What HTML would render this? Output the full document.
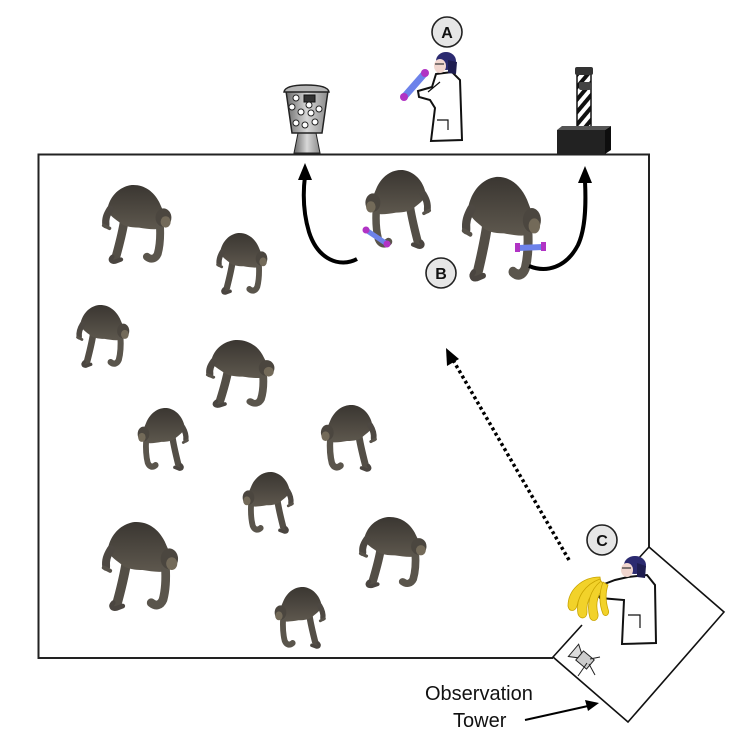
<!DOCTYPE html>
<html><head><meta charset="utf-8"><style>
html,body{margin:0;padding:0;background:#fff;}
svg{display:block;}
</style></head><body>
<svg width="734" height="746" viewBox="0 0 734 746" xmlns="http://www.w3.org/2000/svg">
<defs>
<linearGradient id="fur" x1="0" y1="0" x2="0" y2="1">
 <stop offset="0" stop-color="#3a3631"/><stop offset="1" stop-color="#5e584e"/>
</linearGradient>
<linearGradient id="grayv" x1="0" y1="0" x2="1" y2="0">
 <stop offset="0" stop-color="#6a6a6a"/><stop offset="0.5" stop-color="#d8d8d8"/><stop offset="1" stop-color="#8a8a8a"/>
</linearGradient>
<pattern id="stripe" patternUnits="userSpaceOnUse" width="8" height="8" patternTransform="rotate(40)">
 <rect width="4" height="8" fill="#111"/>
</pattern>
<g id="chimp">
 <path d="M30 48 C27 68 22 86 18 101" stroke="#534e46" stroke-width="12" fill="none" stroke-linecap="round"/>
 <path d="M13 101 C9 105 11 109 17 108 L25 105" stroke="#4a4540" stroke-width="6" fill="none" stroke-linecap="round"/>
 <path d="M6 34 C10 14 24 2 40 0 C56 -1 70 8 78 24 L86 42 L84 60 C76 64 62 62 50 60 C38 60 28 58 22 52 C14 46 8 42 6 34 Z" fill="url(#fur)"/>
 <path d="M10 34 C5 42 3 48 4 56" stroke="#4d4842" stroke-width="10" fill="none" stroke-linecap="round"/>
 <path d="M1 57 L9 61" stroke="#57524a" stroke-width="5" stroke-linecap="round"/>
 <path d="M79 56 C80 72 79 86 76 97 C73 104 67 106 61 101" stroke="#5a554c" stroke-width="11" fill="none" stroke-linecap="round"/>
 <ellipse cx="84" cy="46" rx="11" ry="13" fill="#4b463f"/>
 <ellipse cx="87" cy="52" rx="7" ry="8" fill="#736a59"/>
</g>
</defs>

<!-- enclosure -->
<path d="M553 658 L38.5 658 L38.5 154.5 L649 154.5 L649 547" fill="none" stroke="#222" stroke-width="2"/>
<!-- tower -->
<path d="M649 547 L724 612 L628 722 L553 657 L582 625" fill="none" stroke="#111" stroke-width="1.6"/>
<path d="M649 547 L638 559" fill="none" stroke="#111" stroke-width="1.6"/>

<!-- chimps -->
<use href="#chimp" transform="translate(103,185) scale(0.72,0.71)"/>
<use href="#chimp" transform="translate(217,233) scale(0.53,0.555)"/>
<use href="#chimp" transform="translate(77,305) scale(0.55,0.565)"/>
<use href="#chimp" transform="translate(207,340) scale(0.71,0.61)"/>
<use href="#chimp" transform="translate(188,408) scale(-0.53,0.565)"/>
<use href="#chimp" transform="translate(376,405) scale(-0.58,0.6)"/>
<use href="#chimp" transform="translate(293,472) scale(-0.53,0.555)"/>
<use href="#chimp" transform="translate(103,522) scale(0.79,0.8)"/>
<use href="#chimp" transform="translate(360,517) scale(0.70,0.64)"/>
<use href="#chimp" transform="translate(325,587) scale(-0.53,0.555)"/>
<use href="#chimp" transform="translate(430,170) scale(-0.68,0.71)"/>
<use href="#chimp" transform="translate(463,177) scale(0.82,0.94)"/>

<!-- tools held by chimps -->
<line x1="366" y1="230" x2="387" y2="244" stroke="#6d82ea" stroke-width="5" stroke-linecap="round"/>
<circle cx="366" cy="230" r="3.5" fill="#b133c4"/><circle cx="387" cy="244" r="3.5" fill="#b133c4"/>
<line x1="518" y1="248" x2="543" y2="247" stroke="#6d82ea" stroke-width="6" stroke-linecap="round"/>
<rect x="515" y="243" width="5" height="9" fill="#b133c4"/><rect x="541" y="242" width="5" height="9" fill="#b133c4"/>

<!-- vending / dispenser -->
<path d="M298 133 L316 133 L320 153 L294 153 Z" fill="url(#grayv)" stroke="#222" stroke-width="1"/>
<path d="M286 91 L328 91 L322 133 L292 133 Z" fill="url(#grayv)" stroke="#222" stroke-width="1.5"/>
<path d="M284 92 Q285 85 306 85 Q328 85 329 92 Z" fill="#b5b5b5" stroke="#222" stroke-width="1.5"/>
<rect x="304" y="95" width="11" height="7" fill="#333" stroke="#111"/>
<g fill="#fff" stroke="#222" stroke-width="1">
<circle cx="296" cy="98" r="3"/><circle cx="292" cy="107" r="3"/><circle cx="301" cy="112" r="3"/>
<circle cx="311" cy="113" r="3"/><circle cx="319" cy="109" r="3"/><circle cx="296" cy="123" r="3"/>
<circle cx="305" cy="125" r="3"/><circle cx="315" cy="122" r="3"/><circle cx="309" cy="105" r="3"/>
</g>

<!-- tube stand -->
<rect x="577" y="73" width="14" height="58" fill="#fff"/>
<rect x="577" y="73" width="14" height="58" fill="url(#stripe)" stroke="#111" stroke-width="1.5"/>
<rect x="575" y="67" width="18" height="8" rx="2" fill="#333"/>
<rect x="579" y="82" width="12" height="8" rx="2" fill="#444"/>
<polygon points="557,130 562,126 611,126 605,130" fill="#555"/>
<rect x="557" y="130" width="48" height="24" fill="#222"/>
<polygon points="605,130 611,126 611,150 605,154" fill="#0e0e0e"/>

<!-- person A -->
<path d="M436 74 L452 72 L460 80 L462 140 L431 141 L435 108 L430 100 L419 97 L418 91 L432 87 Z" fill="#fff" stroke="#111" stroke-width="2"/>
<path d="M437 120 L448 120 L448 130" fill="none" stroke="#111" stroke-width="1.2"/>
<path d="M440 82 L428 92" stroke="#111" stroke-width="1.2"/>
<ellipse cx="446" cy="61" rx="10" ry="9" fill="#2b2a70"/>
<path d="M448 60 L457 62 L456 74 L448 73 Z" fill="#1e1d50"/>
<ellipse cx="440" cy="66" rx="6" ry="7" fill="#f1d6cf"/>
<line x1="435" y1="64" x2="444" y2="64" stroke="#333" stroke-width="1.2"/>
<line x1="404" y1="97" x2="425" y2="73" stroke="#6d82ea" stroke-width="7" stroke-linecap="round"/>
<circle cx="404" cy="97" r="4" fill="#b133c4"/><circle cx="425" cy="73" r="4" fill="#b133c4"/>

<!-- person C -->
<path d="M628 577 L647 575 L655 585 L656 643 L622 644 L624 600 L600 598 L594 588 L615 580 Z" fill="#fff" stroke="#111" stroke-width="2"/>
<path d="M628 615 L640 615 L640 628" fill="none" stroke="#111" stroke-width="1.2"/>
<ellipse cx="635" cy="565" rx="11" ry="9" fill="#2b2a70"/>
<path d="M637 563 L646 566 L645 578 L637 577 Z" fill="#1e1d50"/>
<ellipse cx="627" cy="570" rx="6" ry="7" fill="#f1d6cf"/>
<line x1="622" y1="568" x2="631" y2="568" stroke="#333" stroke-width="1.2"/>
<!-- bananas -->
<g fill="#f2d22a" stroke="#c9a400" stroke-width="0.8">
<path d="M600 577 C582 577 568 590 568 606 C569 612 575 612 577 606 C579 594 588 586 601 584 Z"/>
<path d="M600 579 C586 584 575 597 578 614 C580 620 587 619 587 612 C586 600 592 591 603 586 Z"/>
<path d="M601 581 C590 590 586 604 590 618 C593 623 599 620 598 614 C595 603 598 593 605 587 Z"/>
<path d="M603 582 C599 593 599 604 603 614 C606 618 610 614 608 609 C605 599 606 591 608 585 Z"/>
</g>
<!-- camera -->
<g transform="translate(585,660) rotate(40)">
<rect x="-7" y="-6" width="14" height="12" fill="#ccc" stroke="#222" stroke-width="1"/>
<polygon points="-7,-3 -15,-8 -15,8 -7,3" fill="#ddd" stroke="#222" stroke-width="1"/>
</g>
<path d="M587 663 L578 676 M589 664 L595 675 M590 659 L600 657" stroke="#222" stroke-width="1"/>

<!-- curved arrows -->
<path d="M357 259 C340 268 318 260 309 232 C303 212 303 192 305 176" fill="none" stroke="#000" stroke-width="4"/>
<polygon points="305,163 298,180 312,180" fill="#000"/>
<path d="M529 266 C546 273 566 268 578 245 C586 228 586 202 585 181" fill="none" stroke="#000" stroke-width="4"/>
<polygon points="585,166 578,183 592,183" fill="#000"/>

<!-- dotted arrow -->
<line x1="569" y1="560" x2="453" y2="360" stroke="#000" stroke-width="3.5" stroke-dasharray="3 3"/>
<polygon points="446,348 447,366 459,359" fill="#000"/>

<!-- observation tower arrow -->
<line x1="525" y1="720" x2="588" y2="706" stroke="#000" stroke-width="2"/>
<polygon points="599,703 585,700 588,711" fill="#000"/>

<!-- label circles -->
<g font-family="Liberation Sans, Arial, sans-serif" font-weight="bold" font-size="16" text-anchor="middle" fill="#111">
<circle cx="447" cy="32" r="15" fill="#e6e6e6" stroke="#222" stroke-width="1.6"/>
<text x="447" y="38">A</text>
<circle cx="441" cy="273" r="15" fill="#e6e6e6" stroke="#222" stroke-width="1.6"/>
<text x="441" y="279">B</text>
<circle cx="602" cy="540" r="15" fill="#e6e6e6" stroke="#222" stroke-width="1.6"/>
<text x="602" y="546">C</text>
</g>

<g font-family="Liberation Sans, Arial, sans-serif" font-size="20" fill="#111">
<text x="425" y="700">Observation</text>
<text x="453" y="727">Tower</text>
</g>
</svg>
</body></html>
